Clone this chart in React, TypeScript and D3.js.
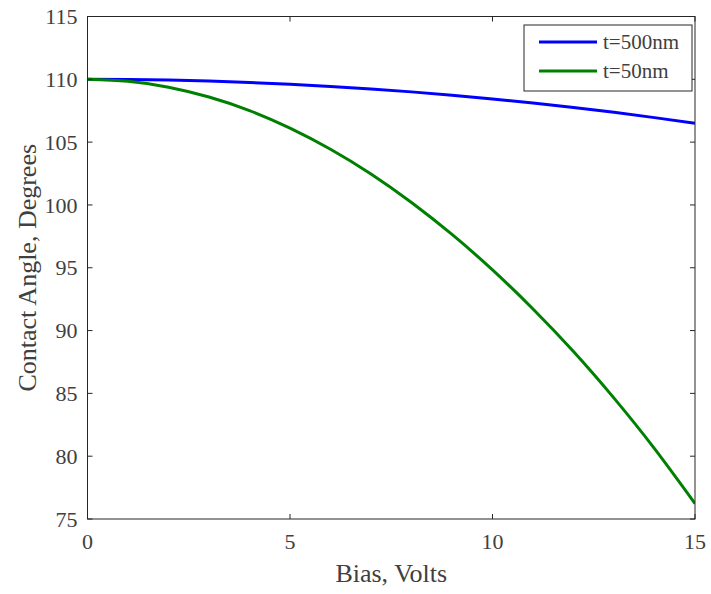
import React from "react";
import * as d3 from "d3";

// Bias sweep (volts) and measured contact angle (degrees) for two dielectric thicknesses
const biasVolts = [0, 1, 2, 3, 4, 5, 6, 7, 8, 9, 10, 11, 12, 13, 14, 15];
const angleThick = [110, 109.99, 109.94, 109.86, 109.75, 109.61, 109.43, 109.23, 109.0, 108.73, 108.43, 108.11, 107.75, 107.37, 106.95, 106.5];
const angleThin = [110, 109.84, 109.37, 108.59, 107.51, 106.11, 104.43, 102.46, 100.19, 97.65, 94.83, 91.72, 88.33, 84.62, 80.6, 76.23];

const seriesNames = ["t=500nm", "t=50nm"];
const seriesColors = ["#0000ff", "#008000"];

const xTicks = [0, 5, 10, 15];
const yTicks = [75, 80, 85, 90, 95, 100, 105, 110, 115];

const W = 711;
const H = 594;
const margin = { left: 87.5, right: 16, top: 16.5, bottom: 75 };
const FONT = "'Liberation Serif', 'Times New Roman', serif";
const AXIS = "#262626";
const LABEL = "#404040";

export default function App() {
  const x = d3.scaleLinear().domain([0, 15]).range([margin.left, W - margin.right]);
  const y = d3.scaleLinear().domain([75, 115]).range([H - margin.bottom, margin.top]);

  const line = d3
    .line<number>()
    .x((_, i) => x(biasVolts[i]))
    .y((d) => y(d))
    .curve(d3.curveNatural);

  const series = [angleThick, angleThin];
  const [x0, x1] = x.range();
  const [yb, yt] = y.range();
  const tick = 5;

  return (
    <svg width={W} height={H} style={{ position: "absolute", left: 0, top: 0, background: "#fff" }}>
      <defs>
        <clipPath id="plot">
          <rect x={x0} y={yt} width={x1 - x0} height={yb - yt} />
        </clipPath>
      </defs>

      {/* data curves */}
      <g clipPath="url(#plot)">
        {series.map((s, i) => (
          <path key={i} d={line(s) ?? ""} fill="none" stroke={seriesColors[i]} strokeWidth={3} />
        ))}
      </g>

      {/* box and ticks */}
      <rect x={x0} y={yt} width={x1 - x0} height={yb - yt} fill="none" stroke={AXIS} strokeWidth={1} />
      {xTicks.map((t) => (
        <g key={"xt" + t}>
          <line x1={x(t)} x2={x(t)} y1={yb} y2={yb - tick} stroke={AXIS} />
          <line x1={x(t)} x2={x(t)} y1={yt} y2={yt + tick} stroke={AXIS} />
          <text x={x(t)} y={yb + 30} textAnchor="middle" fontFamily={FONT} fontSize={22} fill={LABEL}>
            {t}
          </text>
        </g>
      ))}
      {yTicks.map((t) => (
        <g key={"yt" + t}>
          <line x1={x0} x2={x0 + tick} y1={y(t)} y2={y(t)} stroke={AXIS} />
          <line x1={x1} x2={x1 - tick} y1={y(t)} y2={y(t)} stroke={AXIS} />
          <text x={x0 - 10} y={y(t)} dy="0.35em" textAnchor="end" fontFamily={FONT} fontSize={22} fill={LABEL}>
            {t}
          </text>
        </g>
      ))}

      {/* axis titles */}
      <text x={(x0 + x1) / 2} y={582} textAnchor="middle" fontFamily={FONT} fontSize={26} fill={LABEL}>
        Bias, Volts
      </text>
      <text
        transform={`translate(36, ${(yt + yb) / 2}) rotate(-90)`}
        textAnchor="middle"
        fontFamily={FONT}
        fontSize={26}
        fill={LABEL}
      >
        Contact Angle, Degrees
      </text>

      {/* legend */}
      <g>
        <rect x={524} y={25} width={168} height={66} fill="#fff" stroke={AXIS} strokeWidth={1} />
        {seriesNames.map((n, i) => (
          <g key={n}>
            <line x1={539} x2={597} y1={42 + i * 29} y2={42 + i * 29} stroke={seriesColors[i]} strokeWidth={3} />
            <text x={603} y={42 + i * 29} dy="0.35em" fontFamily={FONT} fontSize={21} fill={LABEL}>
              {n}
            </text>
          </g>
        ))}
      </g>
    </svg>
  );
}
